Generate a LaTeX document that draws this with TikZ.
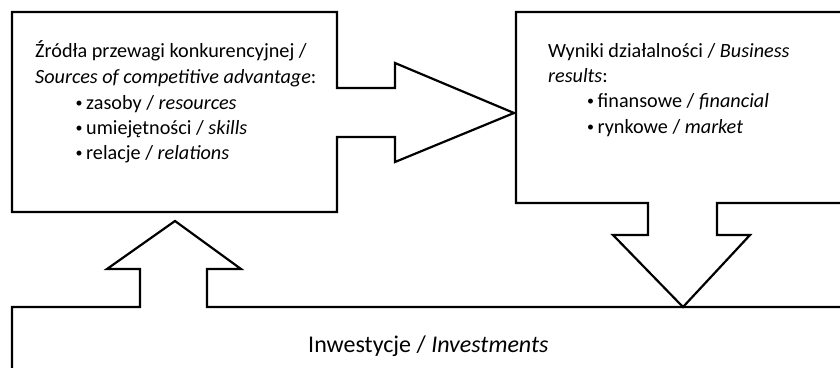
\documentclass[tikz,border=0pt]{standalone}
\usepackage{fontspec}
\setmainfont{Carlito}
\newcommand\mybul{\makebox[10.5pt][l]{\raisebox{1.2pt}{\fontsize{14}{14}\selectfont •}}}
\begin{document}
\begin{tikzpicture}[x=1pt,y=-1pt,
  shapeline/.style={draw=black,line width=2.2pt,line join=miter,fill=white},
  txt/.style={anchor=base west,inner sep=0pt,font=\fontsize{20.2}{22}\selectfont},
  bigtxt/.style={anchor=base west,inner sep=0pt,font=\fontsize{24}{26}\selectfont}]
\useasboundingbox (0,0) rectangle (840,367);
\clip (0,0) rectangle (840,367);
% bottom box with up arrow
\draw[shapeline] (12,380) -- (12,307) -- (140,307) -- (140,269) -- (107,269) -- (175,221)
  -- (241,269) -- (207,269) -- (207,307) -- (850,307) -- (850,380);
% right box with down arrow
\draw[shapeline] (850,12) -- (516,12) -- (516,203) -- (648,203) -- (648,235) -- (613,235)
  -- (683,307) -- (750,235) -- (717,235) -- (717,203) -- (850,203);
% left box with right arrow
\draw[shapeline] (12,12) -- (337,12) -- (337,88) -- (395,88) -- (395,63) -- (514,113)
  -- (395,162) -- (395,137) -- (337,137) -- (337,212) -- (12,212) -- cycle;
% texts
\node[txt] (l1) at (35,57) {Źródła przewagi konkurencyjnej /};
\node[txt] (l2) at (35,83) {\textit{Sources of competitive advantage}:};
\node[txt] (l3) at (75.5,109) {\mybul zasoby / \textit{resources}};
\node[txt] (l4) at (75.5,134) {\mybul umiejętności / \textit{skills}};
\node[txt] (l5) at (75.5,159) {\mybul relacje / \textit{relations}};
\node[txt] (r1) at (548,57) {Wyniki działalności / \textit{Business}};
\node[txt] (r2) at (548,82) {\textit{results}:};
\node[txt] (r3) at (587,107) {\mybul finansowe / \textit{financial}};
\node[txt] (r4) at (587,133) {\mybul rynkowe / \textit{market}};
\node[bigtxt] (b1) at (308,352) {Inwestycje / \textit{Investments}};
\end{tikzpicture}
\end{document}
